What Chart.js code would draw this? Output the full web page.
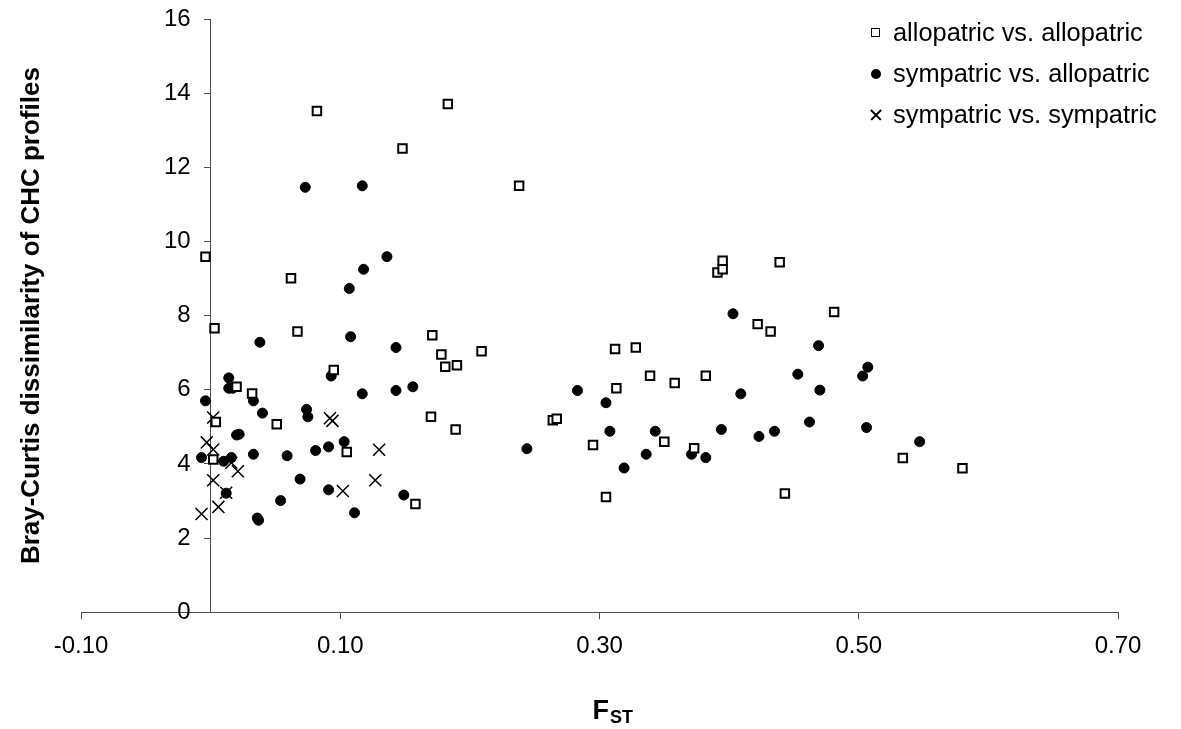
<!DOCTYPE html>
<html>
<head>
<meta charset="utf-8">
<script src="https://cdn.jsdelivr.net/npm/chart.js@4.4.1/dist/chart.umd.min.js"></script>
<style>
  html, body { margin: 0; padding: 0; background: #fff; }
  #wrap { position: relative; width: 1181px; height: 729px; }
  #legenda { position: absolute; left: 866px; top: 12px; font: 25.4px "Liberation Sans", Arial, sans-serif; color: #000; }
  .item { display: flex; align-items: center; height: 41px; }
  .marca { width: 19px; height: 41px; display: flex; justify-content: center; align-items: center; }
  .texto { padding-left: 8px; line-height: 41px; white-space: nowrap; }
  .quadrado { width: 7px; height: 7px; border: 1.5px solid #000; }
  .bola { width: 10px; height: 10px; border-radius: 50%; background: #000; }
  .cruz { position: relative; width: 12px; height: 12px; }
  .cruz::before, .cruz::after { content: ""; position: absolute; left: -1px; top: 5.25px; width: 14px; height: 1.5px; background: #000; }
  .cruz::before { transform: rotate(45deg); }
  .cruz::after { transform: rotate(-45deg); }
</style>
</head>
<body>
<div id="wrap">
  <canvas id="grafico"></canvas>
  <div id="legenda"></div>
</div>
<script>
// Nomes das séries (legenda)
const nomesSeries = ["allopatric vs. allopatric", "sympatric vs. allopatric", "sympatric vs. sympatric"];

// allopatric vs. allopatric (quadrados)
const aloAloX = [-0.004, 0.003, 0.004, 0.002, 0.020, 0.032, 0.051, 0.062, 0.067, 0.082, 0.095, 0.105, 0.148, 0.158, 0.170,
    0.171, 0.178, 0.181, 0.183, 0.189, 0.190, 0.209, 0.238, 0.264, 0.267, 0.295, 0.305, 0.312, 0.313, 0.328,
    0.339, 0.350, 0.358, 0.373, 0.382, 0.391, 0.395, 0.395, 0.422, 0.432, 0.439, 0.443, 0.481, 0.534, 0.580];
const aloAloY = [9.59, 7.66, 5.13, 4.12, 6.08, 5.90, 5.07, 9.01, 7.57, 13.52, 6.53, 4.32, 12.51, 2.92, 5.27,
    7.47, 6.95, 6.62, 13.71, 4.93, 6.66, 7.04, 11.50, 5.18, 5.22, 4.51, 3.11, 7.10, 6.04, 7.14,
    6.38, 4.60, 6.18, 4.42, 6.38, 9.16, 9.25, 9.48, 7.77, 7.57, 9.44, 3.20, 8.10, 4.16, 3.88];

// sympatric vs. allopatric (círculos)
const simAloX = [-0.007, -0.004, 0.010, 0.012, 0.014, 0.014, 0.017, 0.016, 0.020, 0.022, 0.033, 0.033, 0.036, 0.037, 0.038,
    0.040, 0.054, 0.059, 0.069, 0.073, 0.074, 0.075, 0.081, 0.091, 0.091, 0.093, 0.103, 0.107, 0.108, 0.111,
    0.117, 0.117, 0.118, 0.136, 0.143, 0.143, 0.149, 0.156, 0.244, 0.283, 0.305, 0.308, 0.319, 0.336, 0.343,
    0.371, 0.382, 0.394, 0.403, 0.409, 0.423, 0.435, 0.453, 0.462, 0.469, 0.470, 0.503, 0.506, 0.507, 0.547];
const simAloY = [4.17, 5.70, 4.07, 3.21, 6.32, 6.04, 6.04, 4.17, 4.78, 4.80, 5.70, 4.26, 2.54, 2.48, 7.28,
    5.37, 3.01, 4.22, 3.59, 11.46, 5.47, 5.27, 4.36, 4.46, 3.30, 6.37, 4.60, 8.73, 7.43, 2.68,
    11.50, 5.89, 9.25, 9.59, 7.14, 5.98, 3.16, 6.08, 4.41, 5.98, 5.65, 4.88, 3.89, 4.26, 4.88,
    4.26, 4.17, 4.93, 8.05, 5.89, 4.74, 4.88, 6.42, 5.13, 7.19, 5.99, 6.37, 4.98, 6.61, 4.60];

// sympatric vs. sympatric (cruzes)
const simSimX = [0.002, -0.003, 0.002, 0.016, 0.021, 0.002, 0.012, 0.006, -0.007, 0.092, 0.094, 0.130, 0.127, 0.102];
const simSimY = [5.25, 4.58, 4.39, 4.03, 3.80, 3.56, 3.22, 2.84, 2.65, 5.23, 5.16, 4.38, 3.56, 3.27];

// Ticks dos eixos
const ticksX = [-0.10, 0.10, 0.30, 0.50, 0.70];
const ticksY = [0, 2, 4, 6, 8, 10, 12, 14, 16];

const fonte = '"Liberation Sans", Arial, sans-serif';
const corEixo = "#4d4d4d";

function pontos(xs, ys) {
    return xs.map((x, i) => ({ x: x, y: ys[i] }));
}

// Título do eixo x com subscrito (F com ST)
const tituloX = {
    id: "tituloX",
    afterDraw(chart) {
        const { ctx, chartArea } = chart;
        const meio = (chartArea.left + chartArea.right) / 2;
        const base = chart.height - 10;
        ctx.save();
        ctx.fillStyle = "#000";
        ctx.textBaseline = "alphabetic";
        ctx.textAlign = "left";
        ctx.font = "bold 27px " + fonte;
        const larguraF = ctx.measureText("F").width;
        const x0 = meio - 7;
        ctx.fillText("F", x0, base);
        ctx.font = "bold 18px " + fonte;
        ctx.fillText("ST", x0 + larguraF + 1, base + 4);
        ctx.restore();
    }
};

Chart.defaults.font.family = fonte;
Chart.defaults.color = "#000";

const ctx = document.getElementById("grafico").getContext("2d");
new Chart(ctx, {
    type: "scatter",
    data: {
        datasets: [{
            label: nomesSeries[0],
            data: pontos(aloAloX, aloAloY),
            pointStyle: "rect",
            pointRadius: 6,
            backgroundColor: "#fff",
            borderColor: "#000",
            borderWidth: 2,
            yAxisID: "y"
        }, {
            label: nomesSeries[1],
            data: pontos(simAloX, simAloY),
            pointStyle: "circle",
            pointRadius: 5,
            backgroundColor: "#000",
            borderColor: "#000",
            borderWidth: 1,
            yAxisID: "y"
        }, {
            label: nomesSeries[2],
            data: pontos(simSimX, simSimY),
            pointStyle: "crossRot",
            pointRadius: 8.5,
            backgroundColor: "#000",
            borderColor: "#000",
            borderWidth: 1.5,
            yAxisID: "y"
        }]
    },
    options: {
        responsive: true,
        maintainAspectRatio: false,
        animation: false,
        layout: { padding: { left: 0, right: 63, top: 19, bottom: 55 } },
        plugins: {
            legend: { display: false },
            tooltip: { enabled: false }
        },
        scales: {
            x: {
                type: "linear",
                position: "bottom",
                min: ticksX[0],
                max: ticksX[ticksX.length - 1],
                afterBuildTicks: (escala) => { escala.ticks = ticksX.map(v => ({ value: v })); },
                ticks: {
                    font: { size: 24 },
                    padding: 13,
                    maxRotation: 0,
                    callback: (v) => v.toFixed(2)
                },
                grid: { drawOnChartArea: false, tickLength: 7, color: corEixo },
                border: { color: corEixo }
            },
            y: {
                type: "linear",
                position: { x: 0 },
                min: ticksY[0],
                max: ticksY[ticksY.length - 1],
                afterBuildTicks: (escala) => { escala.ticks = ticksY.map(v => ({ value: v })); },
                // eixo no x = 0: os rótulos ficam colados à linha, então afasto com espaços
                ticks: { font: { size: 24 }, callback: (v) => v + "   " },
                grid: { drawOnChartArea: false, tickLength: 6, color: corEixo },
                border: { color: corEixo }
            },
            yTitulo: {
                type: "linear",
                position: "left",
                min: 0,
                max: 16,
                ticks: { display: false },
                grid: { display: false, drawTicks: false },
                border: { display: false },
                title: {
                    display: true,
                    text: "Bray-Curtis dissimilarity of CHC profiles",
                    font: { size: 26, weight: "bold" },
                    padding: { top: 16.5, bottom: 33.3 }
                }
            }
        }
    },
    plugins: [tituloX]
});

// Legenda em HTML no canto superior direito
const classesMarca = ["quadrado", "bola", "cruz"];
const legenda = document.getElementById("legenda");
nomesSeries.forEach((nome, i) => {
    const item = document.createElement("div");
    item.className = "item";
    const marca = document.createElement("span");
    marca.className = "marca";
    const forma = document.createElement("span");
    forma.className = classesMarca[i];
    marca.appendChild(forma);
    const texto = document.createElement("span");
    texto.className = "texto";
    texto.textContent = nome;
    item.appendChild(marca);
    item.appendChild(texto);
    legenda.appendChild(item);
});
</script>
</body>
</html>
